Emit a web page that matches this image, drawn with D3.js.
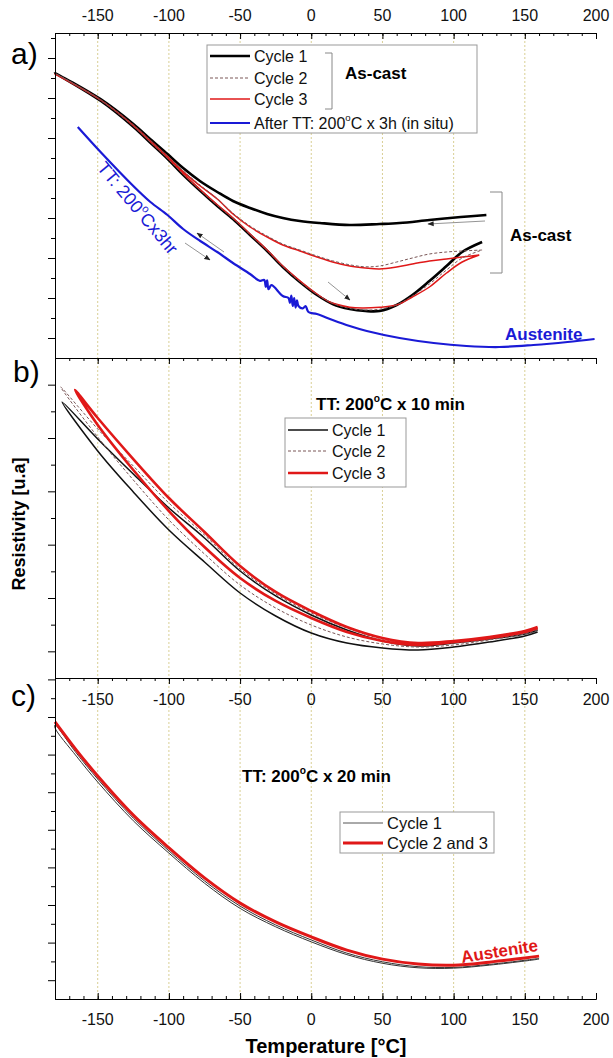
<!DOCTYPE html>
<html>
<head>
<meta charset="utf-8">
<script src="https://cdn.jsdelivr.net/npm/d3@7"></script>
<style>
  body { margin: 0; background: #fff; }
  svg { display: block; font-family: "Liberation Sans", Arial, sans-serif; }
</style>
</head>
<body>
<svg id="chart" width="613" height="1058"></svg>
<script>
// temperature ticks (shared by the 3 panels)
const tempMajor = [-150, -100, -50, 0, 50, 100, 150, 200];
const tempMinor = d3.range(-180, 201, 10);
const gridTemps = [-150, -100, -50, 0, 50, 100, 150];

// ---- panel a) as-cast, [temperature, resistivity u.a] in cycle order ----
const aCycle1 = [
  [123,3.575],[105,3.525],[83,3.45],[62,3.375],[48,3.35],[27,3.325],[6,3.375],[-8,3.425],[-20,3.5],
  [-31,3.6],[-43,3.75],[-55,3.925],[-66,4.15],[-78,4.42],[-90,4.75],[-101,5.1],[-113,5.47],[-125,5.85],
  [-148,6.47],[-180,7.125],
  [-148,6.43],[-125,5.78],[-113,5.38],[-101,4.98],[-90,4.58],[-78,4.18],[-66,3.8],[-55,3.475],[-43,3.075],
  [-31,2.675],[-20,2.275],[-8,1.9],[4,1.575],[15,1.35],[27,1.225],[38,1.175],[48,1.175],[60,1.325],
  [71,1.575],[83,1.925],[95,2.3],[106,2.65],[120,2.9]
];
const aCycle2 = [
  [120,2.7],[106,2.675],[95,2.65],[83,2.6],[71,2.5],[60,2.4],[48,2.3],[38,2.28],[27,2.33],[15,2.43],
  [4,2.55],[-8,2.7],[-20,2.85],[-31,3.05],[-43,3.3],[-55,3.62],[-66,3.98],[-78,4.32],[-90,4.68],
  [-101,5.05],[-113,5.44],[-125,5.83],[-148,6.46],[-180,7.12],
  [-148,6.44],[-125,5.795],[-113,5.395],[-101,4.995],[-90,4.595],[-78,4.195],[-66,3.815],[-55,3.49],
  [-43,3.09],[-31,2.69],[-20,2.29],[-8,1.91],[4,1.59],[15,1.37],[27,1.24],[38,1.2],[48,1.22],[60,1.33],
  [71,1.55],[83,1.85],[95,2.2],[106,2.5],[120,2.7]
];
const aCycle3 = [
  [118,2.575],[106,2.525],[95,2.475],[83,2.425],[71,2.35],[60,2.275],[48,2.225],[38,2.25],[27,2.3],
  [15,2.4],[4,2.525],[-8,2.675],[-20,2.825],[-31,3.025],[-43,3.275],[-55,3.6],[-66,3.975],[-78,4.3],
  [-90,4.66],[-101,5.04],[-113,5.43],[-125,5.82],[-148,6.45],[-180,7.1],
  [-148,6.45],[-125,5.81],[-113,5.41],[-101,5.01],[-90,4.61],[-78,4.21],[-66,3.83],[-55,3.5],[-43,3.1],
  [-31,2.7],[-20,2.3],[-8,1.93],[4,1.6],[13,1.4],[27,1.27],[36,1.25],[48,1.27],[60,1.325],[71,1.525],
  [83,1.775],[95,2.125],[106,2.4],[118,2.575]
];
const aAfterTT = [
  [-164,5.775],[-148,5.15],[-125,4.3],[-113,3.9],[-101,3.575],[-90,3.225],[-78,2.925],[-66,2.65],
  [-55,2.375],[-43,2.1],[-36,1.93],[-33,1.95],[-32,1.78],[-31,1.94],[-30,1.72],[-28,1.82],[-20,1.55],
  [-16,1.5],[-15,1.38],[-14,1.56],[-13,1.3],[-12,1.5],[-11,1.26],[-10,1.44],[-9,1.3],[-6,1.24],
  [-4,1.3],[-2,1.15],[4,1.1],
  [15,0.95],[27,0.8],[39,0.675],[62,0.5],[86,0.375],[109,0.3],[132,0.275],[156,0.325],[180,0.4],[199,0.475]
];

// ---- panel b) TT 200C x 10 min ----
const bCycle1 = [
  [159,0.9],[150,0.825],[125,0.731],[100,0.656],[75,0.6],[50,0.694],[25,0.9],[0,1.181],[-25,1.538],
  [-50,2.006],[-75,2.625],[-100,3.188],[-125,3.825],[-150,4.482],[-175,5.175],
  [-150,4.257],[-125,3.488],[-100,2.775],[-75,2.175],[-50,1.594],[-25,1.163],[0,0.844],[25,0.656],
  [50,0.563],[75,0.525],[100,0.581],[125,0.675],[150,0.788],[159,0.863]
];
const bCycle2 = [
  [159,0.919],[150,0.844],[125,0.731],[100,0.656],[75,0.638],[50,0.731],[25,0.938],[0,1.219],
  [-25,1.575],[-50,2.044],[-75,2.681],[-100,3.281],[-125,3.975],[-150,4.669],[-176,5.457],
  [-150,4.519],[-125,3.713],[-100,2.963],[-75,2.325],[-50,1.744],[-25,1.313],[0,0.994],[25,0.769],
  [50,0.638],[75,0.581],[100,0.619],[125,0.713],[150,0.825],[159,0.9]
];
const bCycle3 = [
  [159,0.956],[150,0.881],[125,0.769],[100,0.694],[75,0.656],[50,0.75],[25,0.956],[0,1.256],
  [-25,1.613],[-50,2.1],[-75,2.738],[-100,3.375],[-125,4.106],[-150,4.875],[-166,5.4],
  [-150,4.744],[-125,3.9],[-100,3.131],[-75,2.456],[-50,1.875],[-25,1.444],[0,1.125],[25,0.863],
  [50,0.694],[75,0.619],[100,0.675],[125,0.75],[150,0.863],[159,0.938]
];

// ---- panel c) TT 200C x 20 min ----
const cCycle1 = [
  [160,1.08],[150,1.03],[125,0.92],[100,0.84],[75,0.86],[50,0.99],[25,1.22],[0,1.57],[-25,1.97],
  [-50,2.47],[-75,3.14],[-100,3.94],[-125,4.81],[-150,5.85],[-165,6.54],[-180,7.29],
  [-180,7.21],[-165,6.46],[-150,5.77],[-125,4.74],[-100,3.88],[-75,3.08],[-50,2.41],[-25,1.92],
  [0,1.52],[25,1.18],[50,0.95],[75,0.83],[100,0.82],[125,0.9],[150,1.01],[160,1.06]
];
const cCycle23 = [
  [-180,7.37],[-165,6.62],[-150,5.93],[-125,4.89],[-100,4.02],[-75,3.22],[-50,2.55],[-25,2.05],
  [0,1.65],[25,1.3],[50,1.06],[75,0.93],[100,0.9],[125,0.98],[150,1.09],[160,1.14]
];

const svg = d3.select("#chart");
svg.append("rect").attr("width", 613).attr("height", 1058).attr("fill", "#fff");

const x = d3.scaleLinear().domain([-180, 200]).range([55, 596]);

// one entry per stacked panel
const panels = [
  { key: "a", top: 33, bottom: 358, ymax: 8.125 },
  { key: "b", top: 358, bottom: 678, ymax: 6 },
  { key: "c", top: 678, bottom: 999, ymax: 8.537 }
];
panels.forEach(p => {
  p.y = d3.scaleLinear().domain([0, p.ymax]).range([p.bottom, p.top]);
  p.g = svg.append("g");
});

// dotted grid lines
panels.forEach(p => {
  p.g.selectAll(".grid").data(gridTemps).enter().append("line")
    .attr("x1", d => x(d)).attr("x2", d => x(d))
    .attr("y1", p.top).attr("y2", p.bottom)
    .attr("stroke", "#d9cf94").attr("stroke-width", 1).attr("stroke-dasharray", "2,2");
});

// line generator for a given panel
function lineFor(p) {
  return d3.line().x(d => x(d[0])).y(d => p.y(d[1])).curve(d3.curveCatmullRom.alpha(0.5));
}
function drawCurve(p, data, color, width, dash) {
  p.g.append("path").datum(data)
    .attr("d", lineFor(p))
    .attr("fill", "none")
    .attr("stroke", color)
    .attr("stroke-width", width)
    .attr("stroke-linejoin", "round")
    .attr("stroke-dasharray", dash || null);
}

const [pa, pb, pc] = panels;
const RED = "#e01818", BLUE = "#1a1ad6", DASH = "#7a5656";

drawCurve(pa, aAfterTT, BLUE, 2.2);
drawCurve(pa, aCycle1, "#000", 2.6);
drawCurve(pa, aCycle3, RED, 1.5);
drawCurve(pa, aCycle2, DASH, 1, "3,2");

drawCurve(pb, bCycle1, "#111", 1.5);
drawCurve(pb, bCycle2, DASH, 1, "3,2");
drawCurve(pb, bCycle3, RED, 2.6);

drawCurve(pc, cCycle1, "#333", 1);
drawCurve(pc, cCycle23, RED, 3);

// y axes (no labels, outward ticks)
panels.forEach(p => {
  const majors = d3.range(0.5, p.ymax, 1);
  const minors = d3.range(1, p.ymax, 1);
  p.g.append("g").attr("transform", "translate(55,0)")
    .call(d3.axisLeft(p.y).tickValues(majors).tickSize(7).tickSizeOuter(0).tickFormat(""));
  p.g.append("g").attr("transform", "translate(55,0)")
    .call(d3.axisLeft(p.y).tickValues(minors).tickSize(4).tickSizeOuter(0).tickFormat(""));
});

// x axes: ticks point into the panel
function xAxis(yPos, down) {
  const g = svg.append("g").attr("transform", `translate(0,${yPos})`);
  const mk = down ? d3.axisTop : d3.axisBottom;
  g.append("g").call(mk(x).tickValues(tempMajor).tickSize(-6).tickSizeOuter(0).tickFormat(""));
  g.append("g").call(mk(x).tickValues(tempMinor).tickSize(-3).tickSizeOuter(0).tickFormat(""));
  return g;
}
xAxis(33, true);
xAxis(358, true);
xAxis(678, true);
xAxis(999, false);
svg.selectAll(".domain").attr("stroke", "#000");

function tickLabels(yBase) {
  svg.append("g").selectAll("text").data(tempMajor).enter().append("text")
    .attr("x", d => x(d)).attr("y", yBase)
    .attr("text-anchor", "middle").attr("font-size", 16).attr("fill", "#111")
    .text(d => String(d));
}
tickLabels(21);
tickLabels(705);
tickLabels(1025);

// text with a raised degree sign
function degText(sel, pre, post, size) {
  sel.append("tspan").text(pre);
  sel.append("tspan").attr("font-size", size * 0.6).attr("dy", -size * 0.45).text("o");
  sel.append("tspan").attr("dy", size * 0.45).text(post);
  return sel;
}

// panel letters
[["a)", 11, 64], ["b)", 13, 382], ["c)", 11, 706]].forEach(d => {
  svg.append("text").attr("x", d[1]).attr("y", d[2]).attr("font-size", 30).text(d[0]);
});

// axis titles
svg.append("text").attr("transform", "translate(25,524) rotate(-90)")
  .attr("text-anchor", "middle").attr("font-size", 18).attr("font-weight", "bold")
  .text("Resistivity [u.a]");
svg.append("text").attr("x", 326).attr("y", 1053)
  .attr("text-anchor", "middle").attr("font-size", 20).attr("font-weight", "bold")
  .text("Temperature [°C]");

// legends
function legend(box, rows, fs) {
  const g = svg.append("g");
  g.append("rect").attr("x", box[0]).attr("y", box[1]).attr("width", box[2]).attr("height", box[3])
    .attr("fill", "#fff").attr("stroke", "#999").attr("stroke-width", 1);
  rows.forEach(r => {
    g.append("line").attr("x1", box[0] + 3).attr("x2", box[0] + 43).attr("y1", r.y).attr("y2", r.y)
      .attr("stroke", r.color).attr("stroke-width", r.w).attr("stroke-dasharray", r.dash || null);
    const t = g.append("text").attr("x", box[0] + 47).attr("y", r.y + 5.5).attr("font-size", fs).attr("fill", "#111");
    if (r.deg) degText(t, r.deg[0], r.deg[1], fs); else t.text(r.label);
  });
  return g;
}
const legA = legend([207, 45, 270, 88], [
  { y: 56, color: "#000", w: 2.6, label: "Cycle 1" },
  { y: 78, color: DASH, w: 1, dash: "3,2", label: "Cycle 2" },
  { y: 99, color: RED, w: 1.5, label: "Cycle 3" },
  { y: 123, color: BLUE, w: 2.2, deg: ["After TT: 200", "C x 3h (in situ)"] }
], 16);
legA.append("path").attr("d", "M325,53H332V109H325").attr("fill", "none").attr("stroke", "#888");
legA.append("text").attr("x", 345).attr("y", 79).attr("font-size", 17).attr("font-weight", "bold").text("As-cast");

legend([285, 418, 121, 69], [
  { y: 430, color: "#111", w: 1.5, label: "Cycle 1" },
  { y: 451, color: DASH, w: 1, dash: "3,2", label: "Cycle 2" },
  { y: 473, color: RED, w: 2.6, label: "Cycle 3" }
], 16);
legend([340, 812, 154, 41], [
  { y: 823, color: "#555", w: 1, label: "Cycle 1" },
  { y: 843, color: RED, w: 3, label: "Cycle 2 and 3" }
], 16.5);

// panel a annotations
svg.append("path").attr("d", "M490,192H502V273H490").attr("fill", "none").attr("stroke", "#888");
svg.append("text").attr("x", 510).attr("y", 241).attr("font-size", 17).attr("font-weight", "bold").text("As-cast");
svg.append("text").attr("x", 505).attr("y", 340).attr("font-size", 17).attr("font-weight", "bold")
  .attr("fill", BLUE).text("Austenite");
degText(svg.append("text").attr("transform", "translate(133,212) rotate(50)")
  .attr("text-anchor", "middle").attr("font-size", 18).attr("fill", BLUE), "TT: 200", "Cx3hr", 18);

svg.append("defs").append("marker").attr("id", "head")
  .attr("viewBox", "0 0 10 10").attr("refX", 9).attr("refY", 5)
  .attr("markerWidth", 7).attr("markerHeight", 7).attr("orient", "auto")
  .append("path").attr("d", "M0,1L10,5L0,9Z").attr("fill", "#222");
[[224, 252, 197, 233], [185, 243, 210, 260], [328, 282, 350, 300], [485, 221, 428, 224]].forEach(a => {
  svg.append("line").attr("x1", a[0]).attr("y1", a[1]).attr("x2", a[2]).attr("y2", a[3])
    .attr("stroke", "#888").attr("stroke-width", 0.9).attr("marker-end", "url(#head)");
});

// panel titles b and c
degText(svg.append("text").attr("x", 316).attr("y", 410).attr("font-size", 17).attr("font-weight", "bold"),
  "TT: 200", "C x 10 min", 17);
degText(svg.append("text").attr("x", 242).attr("y", 782).attr("font-size", 17).attr("font-weight", "bold"),
  "TT: 200", "C x 20 min", 17);
svg.append("text").attr("transform", "translate(462,963) rotate(-9)")
  .attr("font-size", 17).attr("font-weight", "bold").attr("fill", RED).text("Austenite");
</script>
</body>
</html>
